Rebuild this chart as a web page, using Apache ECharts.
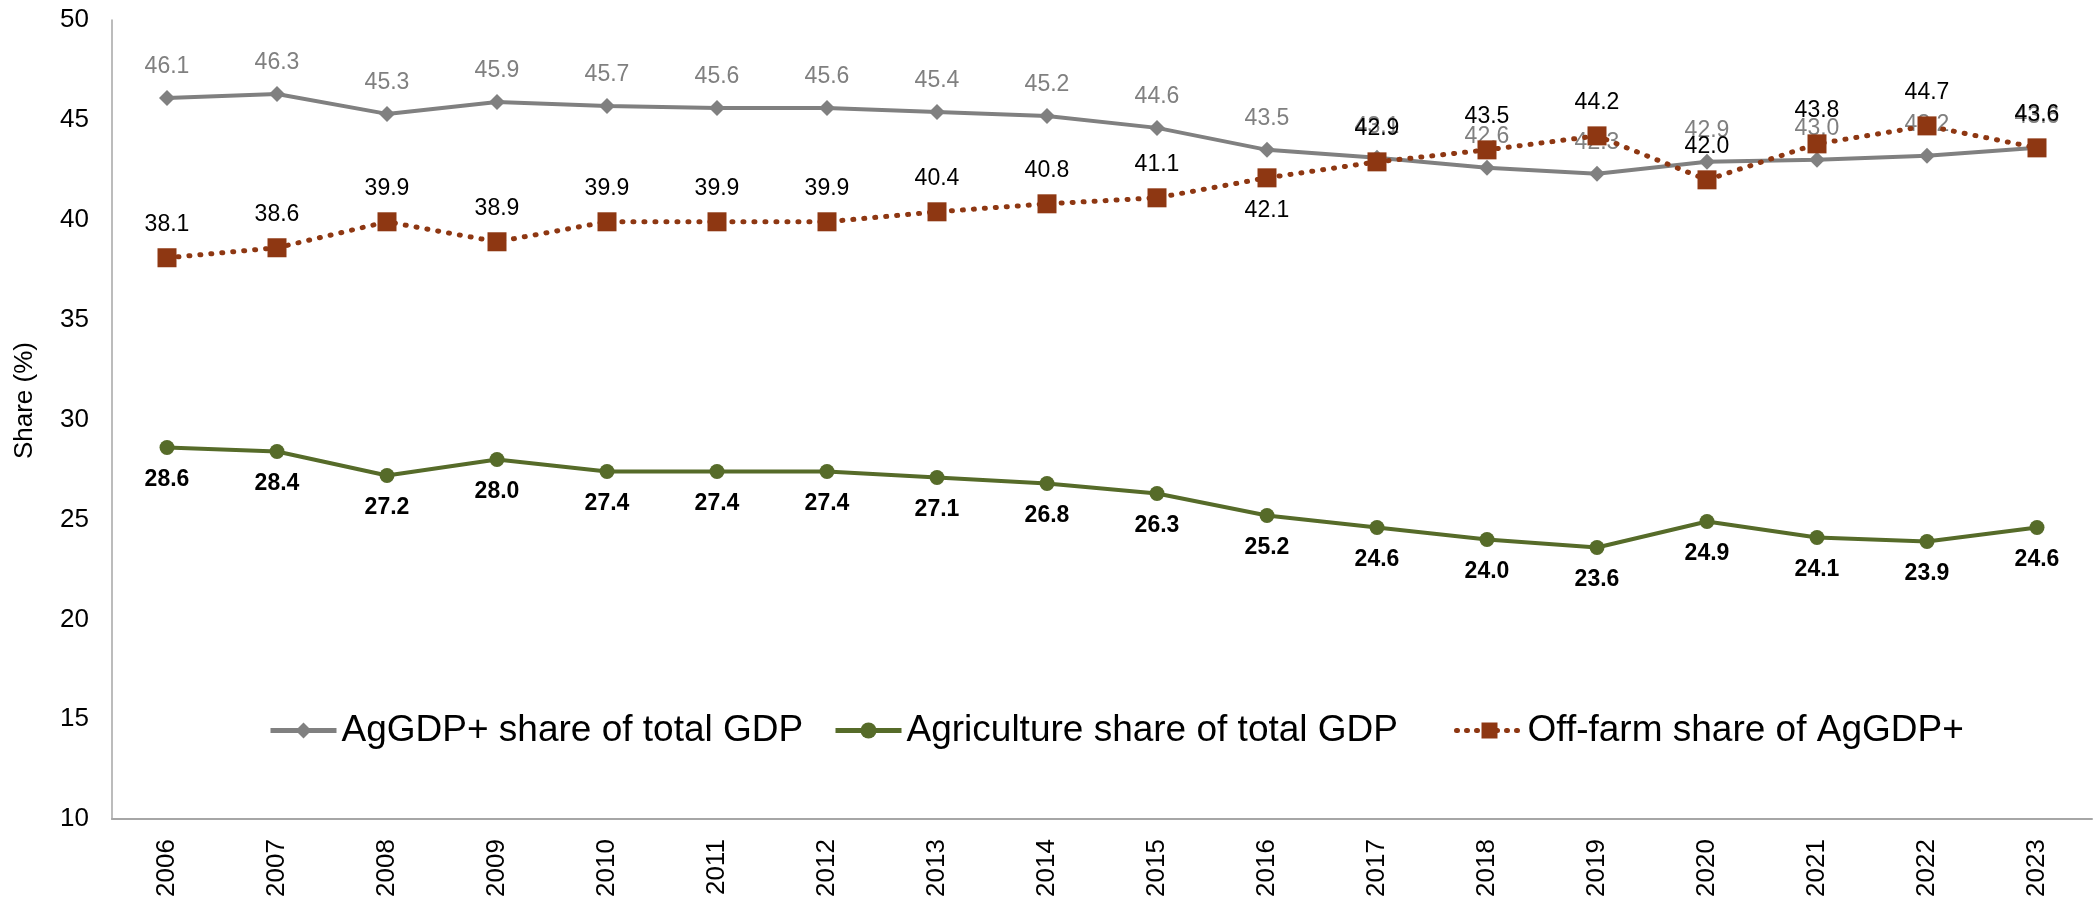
<!DOCTYPE html>
<html>
<head>
<meta charset="utf-8">
<title>AgGDP+ shares</title>
<script src="https://cdn.jsdelivr.net/npm/echarts@6/dist/echarts.min.js"></script>
<style>
  html, body { margin: 0; padding: 0; background: #ffffff; }
  #chart { width: 2093px; height: 900px; }
</style>
</head>
<body>
<div id="chart"></div>
<script>
// Years on the category axis
const years = ['2006', '2007', '2008', '2009', '2010', '2011', '2012', '2013', '2014',
               '2015', '2016', '2017', '2018', '2019', '2020', '2021', '2022', '2023'];

// AgGDP+ share of total GDP (%)
const aggdpShare = [46.1, 46.3, 45.3, 45.9, 45.7, 45.6, 45.6, 45.4, 45.2,
                    44.6, 43.5, 43.1, 42.6, 42.3, 42.9, 43.0, 43.2, 43.6];

// Agriculture share of total GDP (%)
const agricultureShare = [28.6, 28.4, 27.2, 28.0, 27.4, 27.4, 27.4, 27.1, 26.8,
                          26.3, 25.2, 24.6, 24.0, 23.6, 24.9, 24.1, 23.9, 24.6];

// Off-farm share of AgGDP+ (%)
const offFarmShare = [38.1, 38.6, 39.9, 38.9, 39.9, 39.9, 39.9, 40.4, 40.8,
                      41.1, 42.1, 42.9, 43.5, 44.2, 42.0, 43.8, 44.7, 43.6];

// Series names (legend entries)
const seriesNames = ['AgGDP+ share of total GDP', 'Agriculture share of total GDP', 'Off-farm share of AgGDP+'];

// Y axis range
const yMin = 10;
const yMax = 50;
const yStep = 5;

const FONT = '"Liberation Sans", Arial, sans-serif';
const fmt = p => Number(p.value).toFixed(1);

const GREY = '#808080';
const OLIVE = '#566B29';
const RUST = '#8E3712';

// Off-farm labels sit above the markers except where they would collide
const offFarmData = offFarmShare.map((v, i) =>
  years[i] === '2016' ? { value: v, label: { position: 'bottom' } } : v);

// One legend block per entry so each can be placed on its own
function legendBlock(name, left, lineStyle) {
  return {
    left: left,
    top: 707,
    itemWidth: 66,
    itemHeight: 20,
    itemGap: 0,
    lineStyle: lineStyle,
    textStyle: { fontFamily: FONT, fontSize: 37, color: '#000000' },
    data: [name]
  };
}

const chart = echarts.init(document.getElementById('chart'), null, { renderer: 'canvas' });

chart.setOption({
  animation: false,
  backgroundColor: '#ffffff',
  textStyle: { fontFamily: FONT },
  grid: { left: 112, right: 1, top: 20, bottom: 76, containLabel: false },
  legend: [
    legendBlock(seriesNames[0], 263, { width: 5 }),
    legendBlock(seriesNames[1], 828, { width: 5 }),
    legendBlock(seriesNames[2], 1449, { width: 5, type: [1, 9], cap: 'round' })
  ],
  xAxis: {
    type: 'category',
    data: years,
    boundaryGap: true,
    axisLine: { show: true, lineStyle: { color: '#A6A6A6', width: 2 } },
    axisTick: { show: false },
    axisLabel: {
      rotate: 90,
      margin: 20,
      fontFamily: FONT,
      fontSize: 26,
      color: '#000000'
    },
    splitLine: { show: false }
  },
  yAxis: {
    type: 'value',
    min: yMin,
    max: yMax,
    interval: yStep,
    name: 'Share (%)',
    nameLocation: 'middle',
    nameRotate: 90,
    nameGap: 74,
    nameTextStyle: { fontFamily: FONT, fontSize: 26, color: '#000000', padding: [0, 0, 0, 38] },
    axisLine: { show: true, lineStyle: { color: '#A6A6A6', width: 1.5 } },
    axisTick: { show: false },
    axisLabel: { margin: 23, fontFamily: FONT, fontSize: 26, color: '#000000' },
    splitLine: { show: false }
  },
  series: [
    {
      name: seriesNames[0],
      type: 'line',
      data: aggdpShare,
      symbol: 'diamond',
      symbolSize: 16,
      showAllSymbol: true,
      lineStyle: { color: GREY, width: 4 },
      itemStyle: { color: GREY },
      label: {
        show: true,
        position: 'top',
        distance: 12,
        formatter: fmt,
        fontFamily: FONT,
        fontSize: 23,
        color: GREY
      },
      z: 2
    },
    {
      name: seriesNames[1],
      type: 'line',
      data: agricultureShare,
      symbol: 'circle',
      symbolSize: 15,
      showAllSymbol: true,
      lineStyle: { color: OLIVE, width: 4 },
      itemStyle: { color: OLIVE },
      label: {
        show: true,
        position: 'bottom',
        distance: 13,
        formatter: fmt,
        fontFamily: FONT,
        fontSize: 23,
        fontWeight: 'bold',
        color: '#000000'
      },
      z: 3
    },
    {
      name: seriesNames[2],
      type: 'line',
      data: offFarmData,
      symbol: 'rect',
      symbolSize: 19,
      showAllSymbol: true,
      lineStyle: { color: RUST, width: 5, type: [1, 10], cap: 'round' },
      itemStyle: { color: RUST },
      label: {
        show: true,
        position: 'top',
        distance: 12,
        formatter: fmt,
        fontFamily: FONT,
        fontSize: 23,
        color: '#000000'
      },
      z: 4
    }
  ]
});
</script>
</body>
</html>
